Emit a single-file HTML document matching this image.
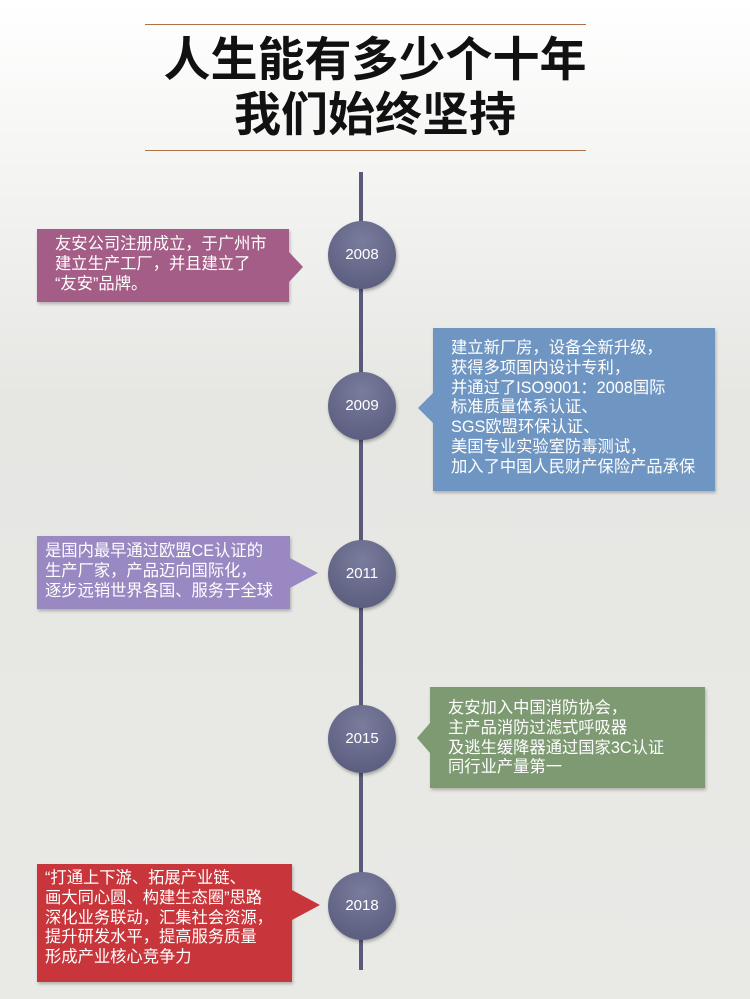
<!DOCTYPE html>
<html><head><meta charset="utf-8"><style>
body{margin:0;width:750px;height:999px;overflow:hidden;background:linear-gradient(#ffffff,#e6e6e3 40%,#e9e9e6);font-family:"Liberation Sans","Noto Sans CJK SC",sans-serif;position:relative}
.hr{position:absolute;left:145px;width:441px;height:1px;background:#b0704a}
.t{position:absolute;left:0;width:750px;text-align:center;font-size:47px;font-weight:bold;color:#111;line-height:52px}
.line{position:absolute;left:359px;top:172px;width:4px;height:798px;background:#595a7a}
.c{position:absolute;width:68px;height:68px;border-radius:50%;background:radial-gradient(circle at 50% 30%,#7a7c9e,#555778);color:#fff;font-size:15px;line-height:68px;text-align:center;box-shadow:1px 2px 3px rgba(0,0,0,.3)}
.b{position:absolute;color:#fff;font-size:16.3px;line-height:19.8px;box-sizing:border-box;box-shadow:1px 2px 3px rgba(0,0,0,.25);white-space:nowrap}
.a{position:absolute;width:0;height:0;border-top:15px solid transparent;border-bottom:15px solid transparent}
</style></head><body>
<div class="hr" style="top:24px"></div>
<div class="t" style="top:34px">人生能有多少个十年</div>
<div class="t" style="top:89px">我们始终坚持</div>
<div class="hr" style="top:150px"></div>
<div class="line"></div>

<div class="b" style="left:37px;top:229px;width:252px;height:73px;background:#a45d87;padding:6px 0 0 18px">友安公司注册成立，于广州市<br>建立生产工厂，并且建立了<br>“友安”品牌。</div>
<div class="a" style="left:289px;top:252px;border-left:14px solid #a45d87"></div>
<div class="c" style="left:328px;top:221px">2008</div>

<div class="b" style="left:433px;top:328px;width:282px;height:163px;background:#6f96c2;padding:11px 0 0 18px">建立新厂房，设备全新升级，<br>获得多项国内设计专利，<br>并通过了ISO9001：2008国际<br>标准质量体系认证、<br>SGS欧盟环保认证、<br>美国专业实验室防毒测试，<br>加入了中国人民财产保险产品承保</div>
<div class="a" style="left:418px;top:393px;border-right:15px solid #6f96c2"></div>
<div class="c" style="left:328px;top:372px">2009</div>

<div class="b" style="left:37px;top:536px;width:253px;height:73px;background:#9a88c2;padding:6px 0 0 8px">是国内最早通过欧盟CE认证的<br>生产厂家，产品迈向国际化，<br>逐步远销世界各国、服务于全球</div>
<div class="a" style="left:290px;top:558px;border-left:28px solid #9a88c2"></div>
<div class="c" style="left:328px;top:540px">2011</div>

<div class="b" style="left:430px;top:687px;width:275px;height:101px;background:#7d9a72;padding:12px 0 0 18px">友安加入中国消防协会，<br>主产品消防过滤式呼吸器<br>及逃生缓降器通过国家3C认证<br>同行业产量第一</div>
<div class="a" style="left:417px;top:723px;border-right:13px solid #7d9a72"></div>
<div class="c" style="left:328px;top:705px">2015</div>

<div class="b" style="left:37px;top:864px;width:255px;height:118px;background:#c8353a;padding:5px 0 0 8px">“打通上下游、拓展产业链、<br>画大同心圆、构建生态圈”思路<br>深化业务联动，汇集社会资源，<br>提升研发水平，提高服务质量<br>形成产业核心竞争力</div>
<div class="a" style="left:292px;top:890px;border-left:28px solid #c8353a"></div>
<div class="c" style="left:328px;top:872px">2018</div>
</body></html>
